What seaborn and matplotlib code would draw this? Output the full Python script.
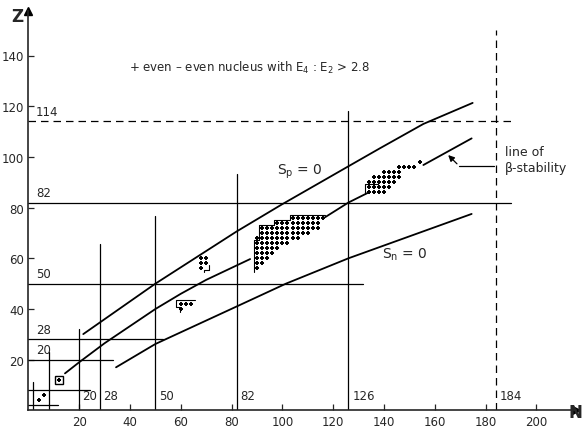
import numpy as np
import pandas as pd
import matplotlib
matplotlib.use("Agg")
import matplotlib.pyplot as plt
import seaborn as sns

# Proton and neutron drip lines and the line of beta stability, (N, Z) pairs
sp0_N = [21.6, 50, 82, 99.7, 126, 138.4, 155.5, 174.9]
sp0_Z = [30.1, 50, 70.6, 81.2, 96.3, 103.4, 113, 121.3]
sn0_N = [34.5, 50, 82, 101.4, 126, 174.5]
sn0_Z = [17, 26.2, 41, 50, 60, 77.5]
beta_segments = [
    ([14.4, 20, 30, 50, 60, 70, 87.3], [14.6, 19, 26.5, 40, 46, 51.5, 59.7]),
    ([116.8, 126, 134.4], [76.2, 82, 86.2]),
    ([155.5, 174.5], [96.8, 107.3]),
]

# Magic numbers: (value, start, end) of each shell-closure line
magic_Z = [(2, 0, 11.8), (8, 0, 24.3), (20, 0, 33.4), (28, 0, 53), (50, 0, 131.7), (82, 0, 190)]
magic_N = [(2, 0, 11.2), (8, 0, 23), (20, 0, 32.1), (28, 0, 65.6), (50, 0, 76.7), (82, 0, 93.2), (126, 0, 118)]
super_Z = (114, 0, 190)
super_N = (184, 0, 150)

# Even-even nuclei with E4/E2 > 2.8: rows of (Z, first N, last N)
region_light = [(4, 4, 4), (6, 6, 6)]
region_mg = [(12, 12, 12)]
region_zr = [(42, 60, 64), (40, 60, 60)]
region_nd = [(60, 68, 70), (58, 68, 70), (56, 68, 68)]
region_rare = [(76, 104, 116), (74, 98, 114), (72, 92, 114), (70, 92, 110), (68, 90, 106),
               (66, 90, 102), (64, 90, 98), (62, 90, 96), (60, 90, 94), (58, 90, 92), (56, 90, 90)]
region_act = [(98, 154, 154), (96, 146, 152), (94, 140, 146), (92, 136, 146), (90, 134, 144),
              (88, 134, 142), (86, 134, 140)]

# Outlines drawn along the edges of the deformed regions
edge_zr = ([65.6, 58.1, 58.1, 59.7, 59.7], [43.5, 43.5, 40.6, 40.6, 38.8])
edge_nd = ([71.2, 71.2, 69.2, 69.2], [57.4, 55.5, 55.5, 54.5])
edge_rare = ([88.8, 88.8, 90.6, 90.6, 96.8, 96.8, 102.8, 102.8, 116.6],
             [54.5, 67.3, 67.3, 73.2, 73.2, 75.2, 75.2, 77.2, 77.2])
edge_act = ([132.6, 132.6, 137.5], [85.2, 89.2, 89.2])

x_ticks = [20, 40, 60, 80, 100, 120, 140, 160, 180, 200]
y_ticks = [20, 40, 60, 80, 100, 120, 140]


def expand(rows):
    pts = []
    for z, n0, n1 in rows:
        for n in range(n0, n1 + 1, 2):
            pts.append((n, z))
    return pts


sns.set_style("ticks")
plt.rcParams["font.family"] = ["DejaVu Sans"]

fig = plt.figure(figsize=(5.83, 4.35), dpi=100)
ax = fig.add_axes([28.4 / 583, (435 - 411.4) / 435, 547.6 / 583, 399.4 / 435])
ax.set_xlim(0, 547.6 / 2.54)
ax.set_ylim(0, 399.4 / 2.535)

k = "black"
curve_lw = 1.3
grid_lw = 0.9

sns.lineplot(x=sp0_N, y=sp0_Z, ax=ax, color=k, lw=curve_lw, sort=False, estimator=None)
sns.lineplot(x=sn0_N, y=sn0_Z, ax=ax, color=k, lw=curve_lw, sort=False, estimator=None)
for bn, bz in beta_segments:
    sns.lineplot(x=bn, y=bz, ax=ax, color=k, lw=curve_lw, sort=False, estimator=None)

for z, a, b in magic_Z:
    ax.plot([a, b], [z, z], color=k, lw=grid_lw)
for n, a, b in magic_N:
    ax.plot([n, n], [a, b], color=k, lw=grid_lw)
ax.plot([super_Z[1], super_Z[2]], [super_Z[0]] * 2, color=k, lw=grid_lw, ls=(0, (6, 4)))
ax.plot([super_N[0]] * 2, [super_N[1], super_N[2]], color=k, lw=grid_lw, ls=(0, (6, 4)))

pts = []
for reg in (region_light, region_mg, region_zr, region_nd, region_rare, region_act):
    pts += expand(reg)
dots = pd.DataFrame(pts, columns=["N", "Z"])
sns.scatterplot(data=dots, x="N", y="Z", ax=ax, marker="+", s=10, color=k, linewidth=1.4)

for en, ez in (edge_zr, edge_nd, edge_rare, edge_act):
    ax.plot(en, ez, color=k, lw=0.8)

# box around 24Mg
ax.add_patch(plt.Rectangle((10.4, 10.3), 3.3, 3.4, fill=False, lw=1.0, ec=k))

# magic number labels
fs = 8.5
for z, txt in [(115.5, "114"), (83.5, "82"), (51.5, "50"), (29.5, "28"), (21.5, "20")]:
    ax.text(3, z, txt, fontsize=fs, va="bottom", ha="left")
for n, txt in [(21, "20"), (29.5, "28"), (51.5, "50"), (83.5, "82"), (127.5, "126"), (185.5, "184")]:
    ax.text(n, 3.5, txt, fontsize=fs, va="bottom", ha="left")

ax.text(107, 94.5, r"S$_\mathrm{p}$ = 0", fontsize=10, ha="center", va="center")
ax.text(148.3, 61.7, r"S$_\mathrm{n}$ = 0", fontsize=10, ha="center", va="center")
ax.text(187.5, 99, "line of\n\u03b2-stability", fontsize=9, ha="left", va="center", linespacing=1.25)
ax.annotate("", xy=(164.5, 101.5), xytext=(169.5, 96.5),
            arrowprops=dict(arrowstyle="-|>", color=k, lw=0.9, mutation_scale=9))
ax.plot([169.5, 183.5], [96.5, 96.5], color=k, lw=0.9)

ax.text(39.5, 135.5, "+ even \u2013 even nucleus with E$_4$ : E$_2$ > 2.8", fontsize=8.5,
        ha="left", va="center")

ax.set_xticks(x_ticks)
ax.set_yticks(y_ticks)
ax.tick_params(direction="in", length=4, width=0.9, labelsize=8.5, pad=3)
for s in ("top", "right"):
    ax.spines[s].set_visible(False)
for s in ("left", "bottom"):
    ax.spines[s].set_linewidth(1.2)
ax.set_xlabel("")
ax.set_ylabel("")
ax.plot(1, 0, ">", color=k, ms=6, transform=ax.transAxes, clip_on=False)
ax.plot(0, 1, "^", color=k, ms=6, transform=ax.transAxes, clip_on=False)
fig.text(17 / 583, 1 - 17 / 435, "Z", fontsize=12, fontweight="bold", ha="center", va="center")
fig.text(582 / 583, 1 - 413 / 435, "N", fontsize=12, fontweight="bold", ha="right", va="center")

fig.savefig("out.png", dpi=100)
